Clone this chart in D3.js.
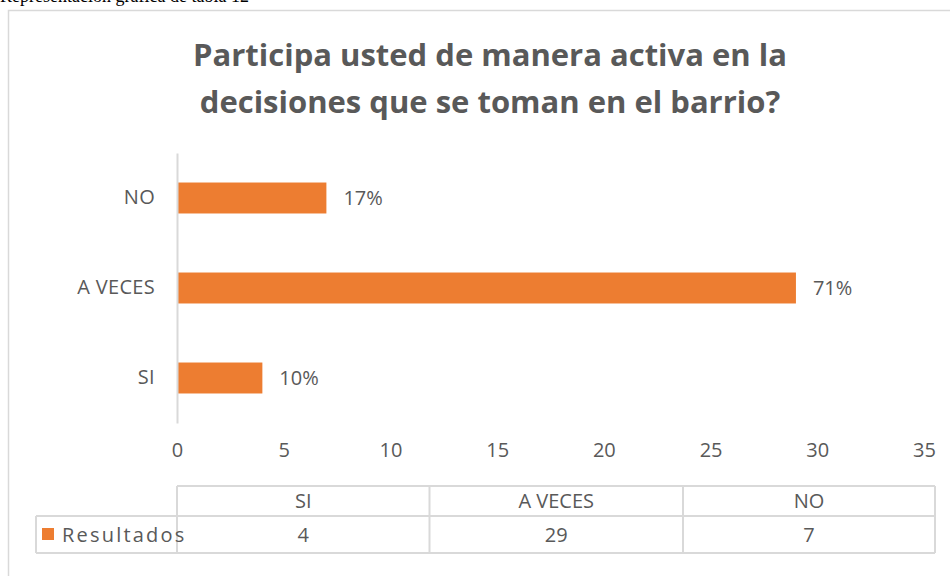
<!DOCTYPE html>
<html>
<head>
<meta charset="utf-8">
<script src="https://cdn.jsdelivr.net/npm/d3@7"></script>
<style>
  html, body { margin: 0; padding: 0; background: #fff; overflow: hidden; }
  svg { display: block; }
</style>
</head>
<body>
<svg id="chart" width="950" height="576"></svg>
<script>
// ---- data ----
const categories = ["SI", "A VECES", "NO"];
const values = [4, 29, 7];
const percentLabels = ["10%", "71%", "17%"];
const seriesName = "Resultados";
const xTicks = [0, 5, 10, 15, 20, 25, 30, 35];
const titleLines = ["Participa usted de manera activa en la", "decisiones que se toman en el barrio?"];
const captionText = "Representación gráfica de tabla 12";

// ---- styles ----
const orange = "#ED7D31";
const textCol = "#595959";
const gridCol = "#D9D9D9";
const font = "'Open Sans', 'Noto Sans', sans-serif";
const fs = 20;

const svg = d3.select("#chart");

// caption above the chart frame (clipped at top)
svg.append("text")
  .attr("x", 0).attr("y", 2)
  .attr("font-family", "'Liberation Serif', 'DejaVu Serif', serif")
  .attr("font-size", 18)
  .attr("fill", "#000")
  .text(captionText);

// chart frame
svg.append("rect")
  .attr("x", 8.5).attr("y", 10.5)
  .attr("width", 960).attr("height", 600)
  .attr("fill", "#fff")
  .attr("stroke", gridCol).attr("stroke-width", 1.5);

// title
svg.append("g").selectAll("text")
  .data(titleLines).join("text")
  .attr("x", 490)
  .attr("y", (d, i) => 66 + i * 47)
  .attr("text-anchor", "middle")
  .attr("font-family", font)
  .attr("font-weight", "bold")
  .attr("font-size", 31)
  .attr("fill", textCol)
  .text(d => d);

// scales
const x = d3.scaleLinear().domain([0, 35]).range([177, 924]);
const y = d3.scaleBand()
  .domain(categories.slice().reverse())
  .range([153, 423])
  .paddingInner(0.656)
  .paddingOuter(0.328);

const data = categories.map((c, i) => ({ cat: c, value: values[i], label: percentLabels[i] }));

// bars
svg.append("g").selectAll("rect")
  .data(data).join("rect")
  .attr("x", x(0))
  .attr("y", d => y(d.cat))
  .attr("width", d => x(d.value) - x(0))
  .attr("height", y.bandwidth())
  .attr("fill", orange);

// data labels
svg.append("g").selectAll("text")
  .data(data).join("text")
  .attr("x", d => x(d.value) + 17)
  .attr("y", d => y(d.cat) + y.bandwidth() / 2)
  .attr("dy", "0.35em")
  .attr("font-family", font)
  .attr("font-size", fs)
  .attr("fill", textCol)
  .text(d => d.label);

// y axis
const yAxis = svg.append("g")
  .attr("transform", `translate(${x(0)},0)`)
  .call(d3.axisLeft(y).tickSize(0).tickPadding(22));
yAxis.select(".domain").attr("stroke", gridCol).attr("stroke-width", 2);
yAxis.selectAll("text")
  .attr("font-family", font).attr("font-size", fs).attr("fill", textCol)
  .attr("letter-spacing", 0.3);

// x axis (labels only)
const xAxis = svg.append("g")
  .attr("transform", "translate(0,423)")
  .call(d3.axisBottom(x).tickValues(xTicks).tickSize(0).tickPadding(20));
xAxis.select(".domain").remove();
xAxis.selectAll("text")
  .attr("font-family", font).attr("font-size", fs).attr("fill", textCol);

// data table
const colEdges = [177, 429.5, 683, 935];
const tTop = 486, tMid = 516, tBot = 553, tLeft = 36;
const tg = svg.append("g").attr("stroke", gridCol).attr("stroke-width", 2).attr("fill", "none");
tg.append("line").attr("x1", colEdges[0]).attr("x2", colEdges[3]).attr("y1", tTop).attr("y2", tTop);
tg.append("line").attr("x1", tLeft).attr("x2", colEdges[3]).attr("y1", tMid).attr("y2", tMid);
tg.append("line").attr("x1", tLeft).attr("x2", colEdges[3]).attr("y1", tBot).attr("y2", tBot);
tg.append("line").attr("x1", tLeft).attr("x2", tLeft).attr("y1", tMid).attr("y2", tBot);
colEdges.forEach(cx => tg.append("line").attr("x1", cx).attr("x2", cx).attr("y1", tTop).attr("y2", tBot));

const cols = categories.map((c, i) => ({ cat: c, value: values[i], cx: (colEdges[i] + colEdges[i + 1]) / 2 }));
svg.append("g").selectAll("text")
  .data(cols).join("text")
  .attr("x", d => d.cx).attr("y", (tTop + tMid) / 2).attr("dy", "0.35em")
  .attr("text-anchor", "middle")
  .attr("font-family", font).attr("font-size", fs).attr("fill", textCol)
  .text(d => d.cat);
svg.append("g").selectAll("text")
  .data(cols).join("text")
  .attr("x", d => d.cx).attr("y", (tMid + tBot) / 2).attr("dy", "0.35em")
  .attr("text-anchor", "middle")
  .attr("font-family", font).attr("font-size", fs).attr("fill", textCol)
  .text(d => d.value);

// legend key in table
svg.append("rect")
  .attr("x", 42).attr("y", 528).attr("width", 12).attr("height", 12)
  .attr("fill", orange);
svg.append("text")
  .attr("x", 62).attr("y", (tMid + tBot) / 2).attr("dy", "0.35em")
  .attr("font-family", font).attr("font-size", fs).attr("fill", textCol)
  .attr("letter-spacing", 2.2)
  .text(seriesName);
</script>
</body>
</html>
